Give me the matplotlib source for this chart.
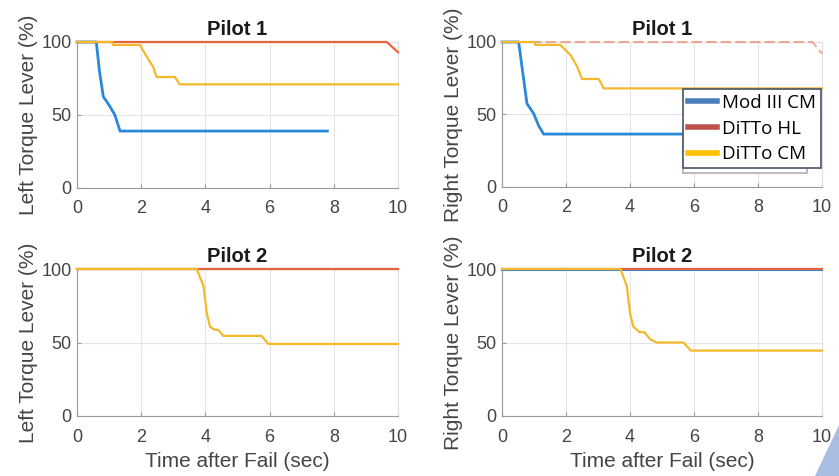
import matplotlib
matplotlib.use("Agg")
import matplotlib.pyplot as plt
from matplotlib.lines import Line2D
from matplotlib.patches import Rectangle, Polygon

plt.rcParams["font.family"] = ["Liberation Sans", "DejaVu Sans"]

series_names = ["Mod III CM", "DiTTo HL", "DiTTo CM"]

# Pilot 1, left lever
p1l_blue_t = [0, 0.6, 0.7, 0.82, 0.9, 1.03, 1.18, 1.34, 7.8]
p1l_blue_v = [100, 100, 80, 62.5, 60, 55.7, 50, 39, 39]
p1l_red_t = [0, 9.65, 10]
p1l_red_v = [100, 100, 93]
p1l_yel_t = [0, 1.1, 1.12, 1.96, 2.17, 2.37, 2.48, 3.05, 3.2, 10]
p1l_yel_v = [100, 100, 98, 98, 90, 83, 76, 76, 71, 71]

# Pilot 1, right lever
p1r_blue_t = [0, 0.52, 0.78, 0.99, 1.14, 1.3, 7.75]
p1r_blue_v = [100, 100, 57.5, 50.6, 42.5, 36.5, 36.5]
p1r_red_t = [0, 9.7, 10]
p1r_red_v = [100, 100, 92]
p1r_yel_t = [0, 1.02, 1.04, 1.82, 2.14, 2.35, 2.5, 3.02, 3.18, 10]
p1r_yel_v = [100, 100, 98, 98, 91, 83, 74.5, 74.5, 68, 68]

# Pilot 2, left lever
p2l_blue_t = [0, 10]
p2l_blue_v = [100, 100]
p2l_red_t = [0, 10]
p2l_red_v = [100, 100]
p2l_yel_t = [0, 3.73, 3.94, 4.04, 4.14, 4.25, 4.4, 4.56, 5.75, 5.96, 10]
p2l_yel_v = [100, 100, 88.5, 70.4, 61, 59, 58.5, 54.5, 54.5, 49, 49]

# Pilot 2, right lever
p2r_blue_t = [0, 10]
p2r_blue_v = [99.4, 99.4]
p2r_red_t = [0, 10]
p2r_red_v = [100, 100]
p2r_yel_t = [0, 3.7, 3.9, 4.0, 4.1, 4.3, 4.45, 4.64, 4.84, 5.67, 5.9, 10]
p2r_yel_v = [100, 100, 88.5, 70, 61, 57, 57, 52, 50, 50, 44.5, 44.5]

x_ticks = [0, 2, 4, 6, 8, 10]
y_ticks = [0, 50, 100]

BLUE = "#2b88d8"
RED = "#e6643a"
YEL = "#f3b92a"
LEG_COLORS = ["#4a7ebb", "#c0504d", "#ffc000"]
TXT = "#454545"

W, H = 839, 476
fig = plt.figure(figsize=(W / 100, H / 100), dpi=100)
fig.patch.set_facecolor("white")


def px_axes(x0, y0, x1, y1):
    return fig.add_axes([x0 / W, 1 - y1 / H, (x1 - x0) / W, (y1 - y0) / H])


panels = [
    (px_axes(77, 42, 398, 188), "Pilot 1", "Left Torque Lever (%)", False,
     (p1l_blue_t, p1l_blue_v), (p1l_red_t, p1l_red_v), (p1l_yel_t, p1l_yel_v)),
    (px_axes(502, 42, 822, 187), "Pilot 1", "Right Torque Lever (%)", False,
     (p1r_blue_t, p1r_blue_v), (p1r_red_t, p1r_red_v), (p1r_yel_t, p1r_yel_v)),
    (px_axes(77, 269, 398, 416), "Pilot 2", "Left Torque Lever (%)", True,
     (p2l_blue_t, p2l_blue_v), (p2l_red_t, p2l_red_v), (p2l_yel_t, p2l_yel_v)),
    (px_axes(502, 269, 822, 416), "Pilot 2", "Right Torque Lever (%)", True,
     (p2r_blue_t, p2r_blue_v), (p2r_red_t, p2r_red_v), (p2r_yel_t, p2r_yel_v)),
]

for i, (ax, title, ylab, xlab, blue, red, yel) in enumerate(panels):
    ax.plot(*blue, color=BLUE, lw=1.5 if xlab else 2.0, zorder=3, clip_on=False)
    if i == 1:
        ax.plot(*red, color=RED, lw=1.5, alpha=0.5, ls=(0, (5, 2)),
                zorder=4, clip_on=False)
    else:
        ax.plot(*red, color=RED, lw=1.6, zorder=4, clip_on=False)
    ax.plot(*yel, color=YEL, lw=1.6, zorder=5, clip_on=False)

    ax.set_xlim(0, 10)
    ax.set_ylim(0, 100)
    ax.set_xticks(x_ticks)
    ax.set_yticks(y_ticks)
    ax.grid(True, color="#e4e4e4", lw=0.8)
    ax.set_axisbelow(True)
    for s in ("left", "bottom"):
        ax.spines[s].set_color("#9a9a9a")
    for s in ("top", "right"):
        ax.spines[s].set_color("#e0e0e0")
    ax.tick_params(direction="in", length=3, color="#9a9a9a",
                   labelcolor=TXT, labelsize=13)
    ax.tick_params(axis="x", pad=9)
    ax.tick_params(axis="y", pad=4)
    ax.set_title(title, fontsize=14.5, fontweight="bold", color="#1a1a1a", pad=5)
    ax.set_ylabel(ylab, fontsize=15, color=TXT, labelpad=2)
    if xlab:
        ax.set_xlabel("Time after Fail (sec)", fontsize=15, color=TXT, labelpad=5)

# remnant of the original legend box under the overlay
fig.patches.append(Rectangle((683 / W, 1 - 173 / H), 124 / W, 40 / H,
                             transform=fig.transFigure, facecolor="white",
                             edgecolor="#b0b0b0", lw=1.2, zorder=6))

handles = [Line2D([], [], color=c, lw=4) for c in LEG_COLORS]
leg = fig.legend(handles, series_names, loc="upper left",
                 bbox_to_anchor=(683 / W, 1 - 89 / H), borderaxespad=0,
                 fancybox=False, framealpha=1, edgecolor="#44546a",
                 prop={"family": ["Open Sans", "DejaVu Sans"], "size": 13.5},
                 handlelength=1.55, handletextpad=0.3, borderpad=0.25,
                 labelspacing=0.42)
leg.get_frame().set_linewidth(1.2)
leg.set_zorder(10)

# slide decoration in the bottom-right corner
fig.patches.append(Polygon([(1, 1 - 425 / H), (815 / W, 0), (1, 0)],
                           closed=True, transform=fig.transFigure,
                           facecolor="#a9bde3", edgecolor="none", zorder=0))

fig.savefig("out.png", dpi=100, facecolor="white")
